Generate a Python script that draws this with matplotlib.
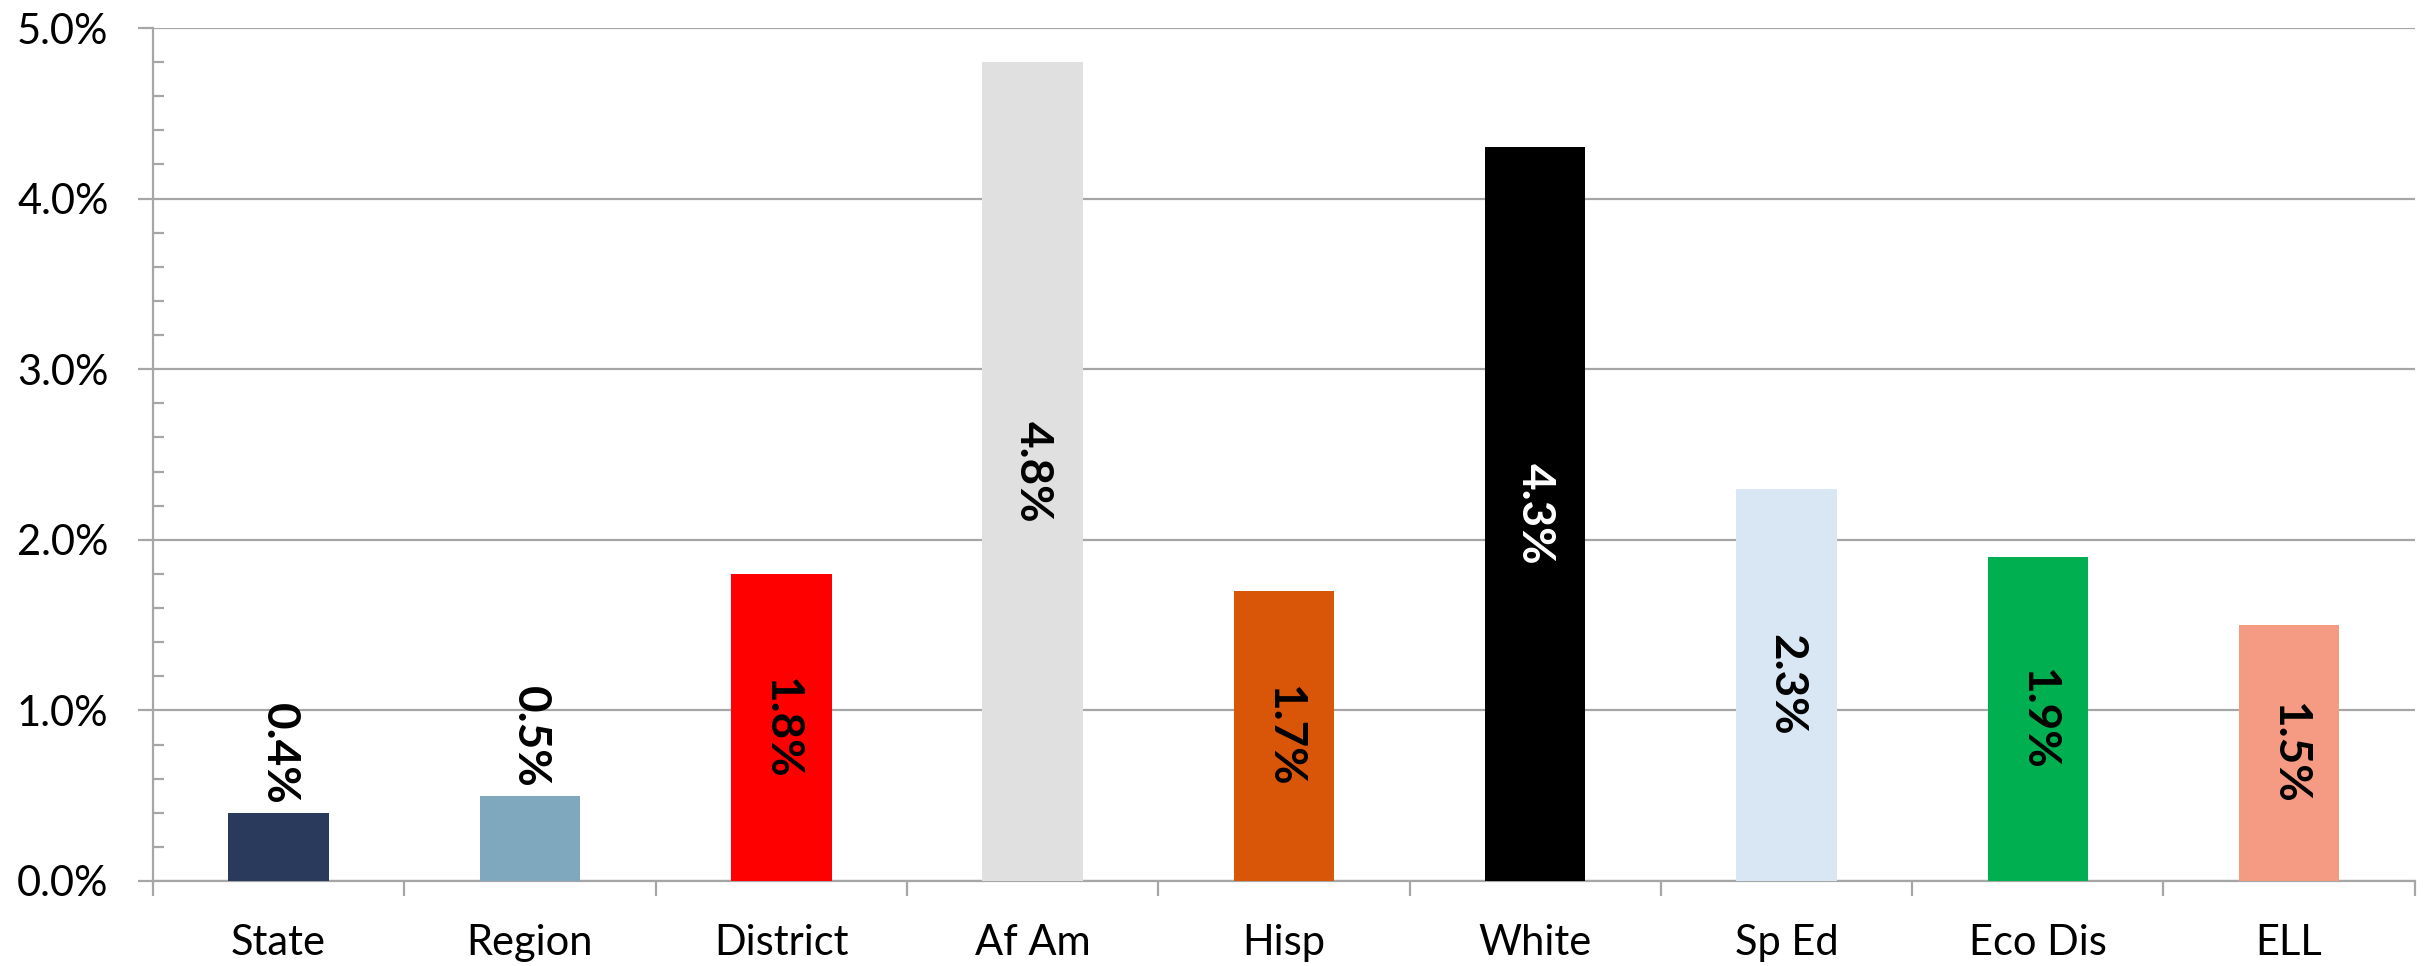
import matplotlib
matplotlib.use('Agg')
import matplotlib.pyplot as plt
import numpy as np
from matplotlib.ticker import FuncFormatter, MultipleLocator

categories = ['State', 'Region', 'District', 'Af Am', 'Hisp', 'White',
              'Sp Ed', 'Eco Dis', 'ELL']
values = [0.4, 0.5, 1.8, 4.8, 1.7, 4.3, 2.3, 1.9, 1.5]
bar_colors = ['#2A3A5C', '#7FA7BD', '#FF0000', '#E0E0E0', '#D95508',
              '#000000', '#D9E6F3', '#00B050', '#F59B84']
label_colors = ['black', 'black', 'black', 'black', 'black',
                'white', 'black', 'black', 'black']

GRID = '#A6A6A6'


def main():
    fig = plt.figure(figsize=(24.32, 9.66), dpi=100)
    ax = fig.add_axes([0.0629, 0.088, 0.930, 0.883])

    x = np.arange(len(categories))
    ax.bar(x, values, width=0.4, color=bar_colors, zorder=3)

    # labels sit in the middle of the bar, or just above it if it's too short
    for xi, v, c in zip(x, values, label_colors):
        txt = f'{v:.1f}%'
        kw = dict(rotation=-90, ha='center', fontsize=33, fontweight='bold',
                  family='Lato', color=c, zorder=4)
        if v >= 1.0:
            ax.text(xi, v / 2, txt, va='center', **kw)
        else:
            ax.annotate(txt, (xi, v), xytext=(0, 6),
                        textcoords='offset points', va='bottom', **kw)

    ax.set_xlim(-0.5, len(categories) - 0.5)
    ax.set_ylim(0, 5.0)

    ax.yaxis.set_major_locator(MultipleLocator(1.0))
    ax.yaxis.set_minor_locator(MultipleLocator(0.2))
    ax.yaxis.set_major_formatter(FuncFormatter(lambda v, p: f'{v:.1f}%'))
    ax.grid(axis='y', which='major', color=GRID, linewidth=1.6, zorder=0)

    ax.set_xticks(np.arange(-0.5, len(categories), 1.0))
    ax.set_xticklabels([])
    ax.set_xticks(x, minor=True)
    ax.set_xticklabels(categories, minor=True, family='Lato', fontsize=30)
    ax.tick_params(axis='x', which='major', length=11, width=1.6, color=GRID,
                   direction='out')
    ax.tick_params(axis='x', which='minor', length=0, pad=31)

    ax.tick_params(axis='y', which='major', length=11, width=1.6, color=GRID,
                   direction='out', labelsize=30, pad=21)
    ax.tick_params(axis='y', which='minor', length=8, width=1.6, color=GRID,
                   direction='in')
    for lab in ax.get_yticklabels():
        lab.set_family('Lato')

    for side in ['top', 'right']:
        ax.spines[side].set_visible(False)
    for side in ['left', 'bottom']:
        ax.spines[side].set_color(GRID)
        ax.spines[side].set_linewidth(1.6)

    fig.savefig('out.png', dpi=100, facecolor='white')


if __name__ == '__main__':
    main()
